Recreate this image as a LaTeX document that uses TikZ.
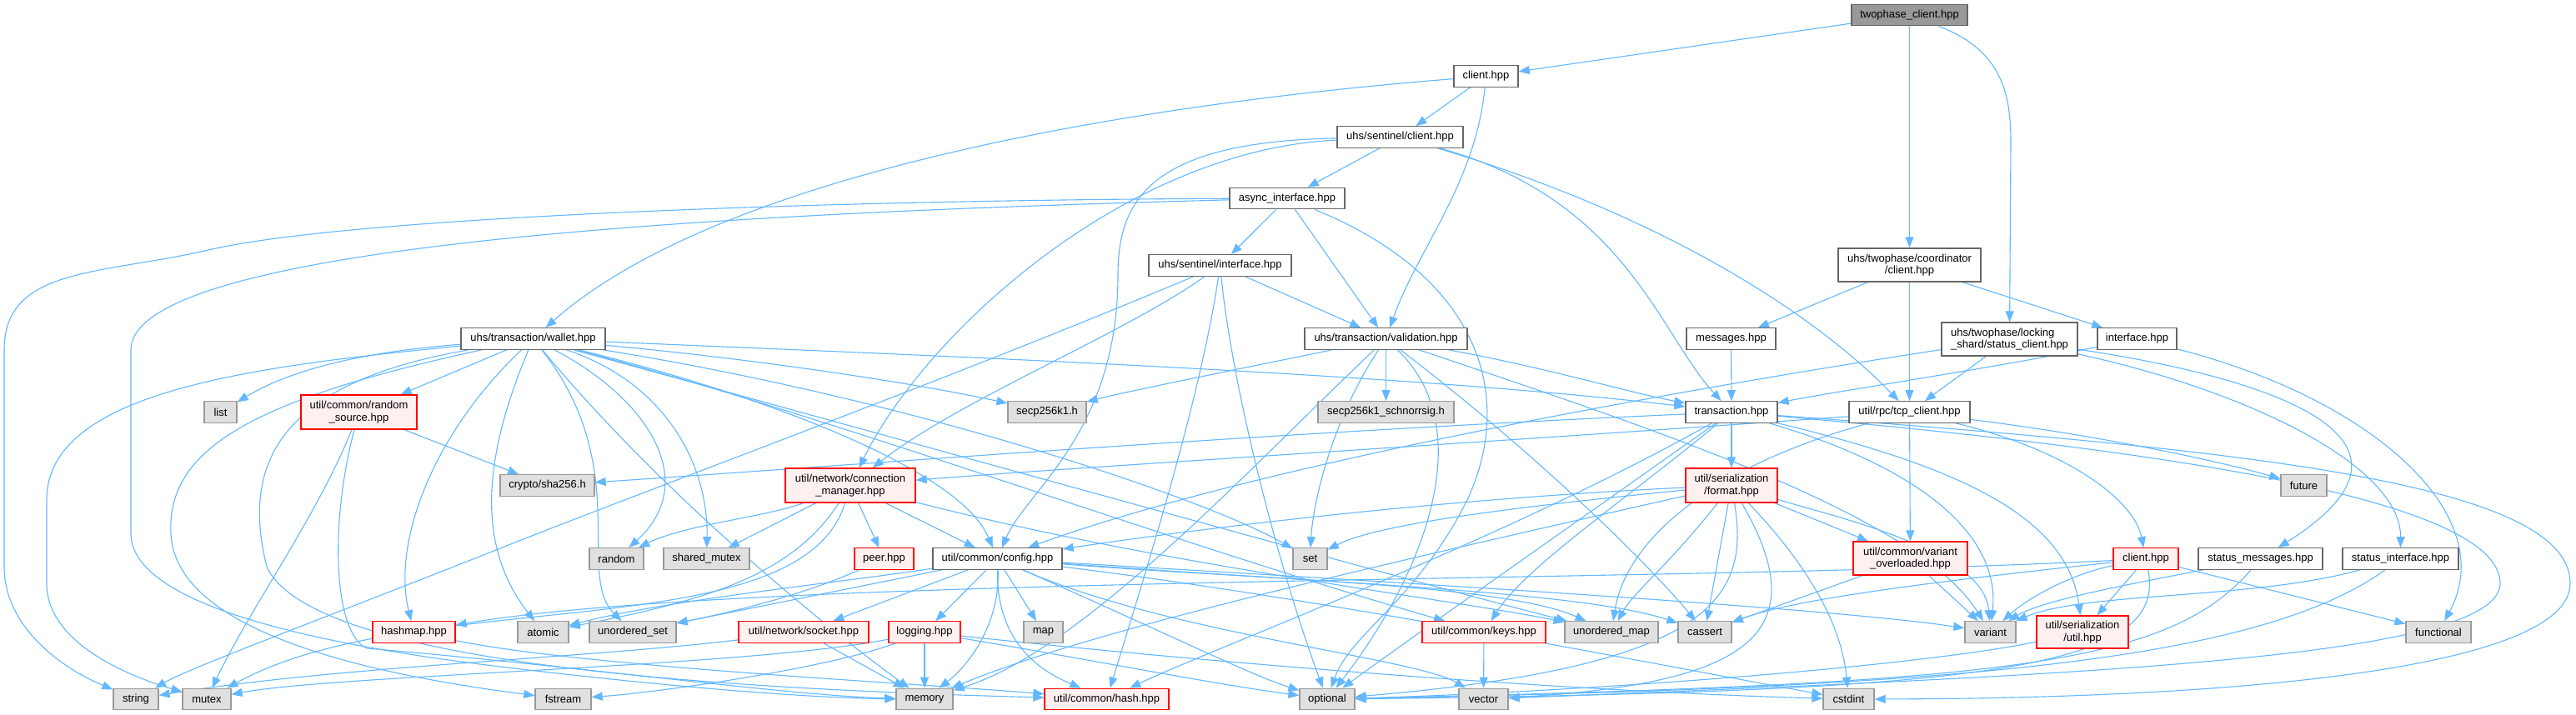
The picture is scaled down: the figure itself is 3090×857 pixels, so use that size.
\documentclass[tikz,border=0pt]{standalone}
\usepackage{fontspec}
\setmainfont{Liberation Sans}
\usetikzlibrary{arrows.meta}
\pgfdeclarelayer{bg}
\pgfdeclarelayer{edges}
\pgfsetlayers{bg,edges,main}
\definecolor{edgec}{HTML}{63B8FF}
\definecolor{extfill}{HTML}{E0E0E0}
\definecolor{extdraw}{HTML}{999999}
\definecolor{plaindraw}{HTML}{666666}
\definecolor{redfill}{HTML}{FFF0F0}
\definecolor{rootfill}{HTML}{999999}
\tikzset{
  nodebase/.style={draw, rectangle, inner sep=0pt, minimum height=25.5pt, line width=1.3pt,
    font=\fontsize{13}{14.5}\selectfont, text=black, align=center},
  plainbox/.style={nodebase, fill=white, draw=plaindraw},
  rootbox/.style={nodebase, fill=rootfill, draw=plaindraw},
  extbox/.style={nodebase, fill=extfill, draw=extdraw},
  redbox/.style={nodebase, fill=redfill, draw=red},
  edg/.style={draw=edgec, line width=1.1pt, -{Triangle[length=13pt,width=10pt]}}
}
\begin{document}
\begin{tikzpicture}[x=1pt,y=-1pt]
\useasboundingbox (0,0) rectangle (3090,857);
\begin{pgfonlayer}{bg}
\fill[white] (0,0) rectangle (3090,857);
\end{pgfonlayer}
% nodes
\node[rootbox,minimum width=139pt] (root) at (2290.5,18) {twophase\_client.hpp};
\node[plainbox,minimum width=77pt] (clienthpp) at (1782.5,91.5) {client.hpp};
\node[plainbox,minimum width=151pt] (sentclient) at (1679.5,164.5) {uhs/sentinel/client.hpp};
\node[plainbox,minimum width=138pt] (async) at (1544,238) {async\_interface.hpp};
\node[plainbox,minimum width=171pt] (sentiface) at (1463.5,318.5) {uhs/sentinel/interface.hpp};
\node[plainbox,minimum width=173pt] (wallet) at (639.5,406.5) {uhs/transaction/wallet.hpp};
\node[plainbox,minimum width=195pt] (validation) at (1662.5,406.5) {uhs/transaction/validation.hpp};
\node[plainbox,minimum width=171pt,minimum height=40pt] (coord) at (2290.5,318) {uhs/twophase/coordinator\\/client.hpp};
\node[plainbox,minimum width=107pt] (messages) at (2076.5,406.5) {messages.hpp};
\node[plainbox,minimum width=163pt,minimum height=40pt,align=left] (statusclient) at (2410.5,407) {uhs/twophase/locking\\\_shard/status\_client.hpp};
\node[plainbox,minimum width=95pt] (iface) at (2563.5,406.5) {interface.hpp};
\node[extbox,minimum width=39pt] (list) at (264.5,494.5) {list};
\node[redbox,minimum width=139pt,minimum height=41pt] (randsrc) at (430.5,494.5) {util/common/random\\\_source.hpp};
\node[extbox,minimum width=94pt] (secp) at (1256,494.5) {secp256k1.h};
\node[extbox,minimum width=163pt] (schnorr) at (1662.5,494.5) {secp256k1\_schnorrsig.h};
\node[plainbox,minimum width=110pt] (transaction) at (2077,494.5) {transaction.hpp};
\node[plainbox,minimum width=145pt] (tcpclient) at (2290.5,494.5) {util/rpc/tcp\_client.hpp};
\node[extbox,minimum width=113pt] (sha256) at (656.5,582.5) {crypto/sha256.h};
\node[redbox,minimum width=156pt,minimum height=41pt] (connmgr) at (1020,582.5) {util/network/connection\\\_manager.hpp};
\node[redbox,minimum width=110pt,minimum height=41pt] (format) at (2077,582.5) {util/serialization\\/format.hpp};
\node[extbox,minimum width=55pt] (future) at (2763.5,582.5) {future};
\node[extbox,minimum width=65pt] (random) at (739.5,670.5) {random};
\node[extbox,minimum width=103pt] (sharedmutex) at (847.5,670.5) {shared\_mutex};
\node[redbox,minimum width=71pt] (peer) at (1060.5,670.5) {peer.hpp};
\node[plainbox,minimum width=155pt] (config) at (1196.5,670.5) {util/common/config.hpp};
\node[extbox,minimum width=41pt] (set) at (1571.5,670.5) {set};
\node[redbox,minimum width=137pt,minimum height=40pt] (varover) at (2291.5,670) {util/common/variant\\\_overloaded.hpp};
\node[redbox,minimum width=78pt] (rpcclient) at (2574,670.5) {client.hpp};
\node[plainbox,minimum width=149pt] (statusmsg) at (2711.5,670.5) {status\_messages.hpp};
\node[plainbox,minimum width=139pt] (statusiface) at (2879.5,670.5) {status\_interface.hpp};
\node[redbox,minimum width=99pt] (hashmap) at (496.5,758.5) {hashmap.hpp};
\node[extbox,minimum width=61pt] (atomic) at (651.5,758.5) {atomic};
\node[extbox,minimum width=104pt] (uset) at (759,758.5) {unordered\_set};
\node[redbox,minimum width=156pt] (socket) at (964,758.5) {util/network/socket.hpp};
\node[redbox,minimum width=86pt] (logging) at (1109,758.5) {logging.hpp};
\node[extbox,minimum width=47pt] (map) at (1251.5,758.5) {map};
\node[redbox,minimum width=148pt] (keys) at (1780,758.5) {util/common/keys.hpp};
\node[extbox,minimum width=112pt] (umap) at (1933,758.5) {unordered\_map};
\node[extbox,minimum width=64pt] (cassert) at (2045,758.5) {cassert};
\node[extbox,minimum width=61pt] (variant) at (2387.5,758.5) {variant};
\node[redbox,minimum width=110pt,minimum height=39pt] (serutil) at (2498,758.5) {util/serialization\\/util.hpp};
\node[extbox,minimum width=78pt] (functional) at (2925,758.5) {functional};
\node[extbox,minimum width=54pt] (string) at (163,839) {string};
\node[extbox,minimum width=58pt] (mutex) at (248,839) {mutex};
\node[extbox,minimum width=67pt] (fstream) at (675.5,839) {fstream};
\node[extbox,minimum width=68pt] (memory) at (1109,839) {memory};
\node[redbox,minimum width=149pt] (hash) at (1327.5,839) {util/common/hash.hpp};
\node[extbox,minimum width=66pt] (optional) at (1592,839) {optional};
\node[extbox,minimum width=59pt] (vector) at (1779.5,839) {vector};
\node[extbox,minimum width=61pt] (cstdint) at (2217.5,839) {cstdint};
% edges
\begin{pgfonlayer}{edges}
% root
\draw[edg] (root) -- (clienthpp);
\draw[edg] (root) -- (coord);
\draw[edg] (root) .. controls (2400,60) and (2412,110) .. (2412,170) -- (statusclient);
% client.hpp
\draw[edg] (clienthpp) -- (sentclient);
\draw[edg] (clienthpp) .. controls (1770,220) and (1700,300) .. (validation);
\draw[edg] (clienthpp) .. controls (1300,130) and (850,220) .. (wallet);
% sentinel client
\draw[edg] (sentclient) -- (async);
\draw[edg] (sentclient) .. controls (1950,240) and (1990,400) .. (transaction);
\draw[edg] (sentclient) .. controls (2000,260) and (2180,380) .. (tcpclient);
\draw[edg] (sentclient) .. controls (1350,180) and (1110,400) .. (connmgr);
\draw[edg] (sentclient) .. controls (1380,170) and (1341,240) .. (1341,330) .. controls (1341,520) and (1230,590) .. (config);
% async interface
\draw[edg] (async) -- (sentiface);
\draw[edg] (async) -- (validation);
\draw[edg] (async) .. controls (1770,330) and (1820,470) .. (1760,600) .. controls (1700,720) and (1620,760) .. (optional);
\draw[edg] (async) .. controls (1000,240) and (420,260) .. (250,300) .. controls (120,330) and (5,320) .. (5,420) -- (5,680) .. controls (5,750) and (70,800) .. (string);
\draw[edg] (async) .. controls (900,255) and (157,290) .. (157,420) -- (157,640) .. controls (157,720) and (350,770) .. (600,800) .. controls (850,830) and (1000,838) .. (memory);
% sentinel interface
\draw[edg] (sentiface) -- (validation);
\draw[edg] (sentiface) .. controls (1350,400) and (1150,480) .. (connmgr);
\draw[edg] (sentiface) .. controls (1150,450) and (850,560) .. (620,650) .. controls (420,730) and (230,800) .. (string);
\draw[edg] (sentiface) .. controls (1440,480) and (1370,700) .. (hash);
\draw[edg] (sentiface) .. controls (1480,480) and (1540,700) .. (optional);
% wallet
\draw[edg] (wallet) .. controls (400,425) and (330,455) .. (list);
\draw[edg] (wallet) -- (randsrc);
\draw[edg] (wallet) .. controls (520,520) and (470,650) .. (hashmap);
\draw[edg] (wallet) .. controls (575,560) and (575,660) .. (atomic);
\draw[edg] (wallet) .. controls (760,560) and (690,690) .. (uset);
\draw[edg] (wallet) .. controls (300,440) and (56,470) .. (56,600) -- (56,700) .. controls (56,770) and (150,810) .. (mutex);
\draw[edg] (wallet) .. controls (300,480) and (200,540) .. (205,640) .. controls (210,760) and (450,810) .. (fstream);
\draw[edg] (wallet) .. controls (780,480) and (840,580) .. (random);
\draw[edg] (wallet) .. controls (800,460) and (850,560) .. (sharedmutex);
\draw[edg] (wallet) .. controls (1200,430) and (1700,450) .. (transaction);
\draw[edg] (wallet) .. controls (1000,500) and (1400,650) .. (keys);
\draw[edg] (wallet) .. controls (1200,560) and (1700,700) .. (umap);
\draw[edg] (wallet) .. controls (900,470) and (1150,560) .. (config);
\draw[edg] (wallet) .. controls (1100,480) and (1450,600) .. (set);
\draw[edg] (wallet) .. controls (900,430) and (1100,460) .. (secp);
\draw[edg] (wallet) .. controls (330,460) and (290,560) .. (320,680) .. controls (370,790) and (800,825) .. (hash);
\draw[edg] (wallet) .. controls (800,600) and (1000,760) .. (memory);
% random source
\draw[edg] (randsrc) -- (sha256);
\draw[edg] (randsrc) .. controls (380,620) and (300,730) .. (mutex);
\draw[edg] (randsrc) .. controls (395,630) and (400,760) .. (440,778) .. controls (700,800) and (950,835) .. (memory);
% hashmap
\draw[edg] (hashmap) .. controls (700,800) and (1100,820) .. (hash);
% connection manager
\draw[edg] (connmgr) -- (sharedmutex);
\draw[edg] (connmgr) -- (peer);
\draw[edg] (connmgr) -- (config);
\draw[edg] (connmgr) .. controls (950,690) and (850,720) .. (atomic);
\draw[edg] (connmgr) .. controls (960,780) and (500,700) .. (mutex);
\draw[edg] (connmgr) .. controls (1400,680) and (1750,720) .. (umap);
\draw[edg] (connmgr) .. controls (920,620) and (820,630) .. (random);
% peer
\draw[edg] (peer) .. controls (950,720) and (850,740) .. (uset);
% config
\draw[edg] (config) -- (socket);
\draw[edg] (config) -- (logging);
\draw[edg] (config) -- (map);
\draw[edg] (config) .. controls (1195,780) and (1260,810) .. (hash);
\draw[edg] (config) .. controls (1400,760) and (1500,810) .. (optional);
\draw[edg] (config) .. controls (1600,720) and (2000,800) .. (cstdint);
\draw[edg] (config) .. controls (1700,700) and (2200,730) .. (variant);
\draw[edg] (config) .. controls (1000,700) and (800,720) .. (atomic);
\draw[edg] (config) .. controls (1000,710) and (900,730) .. (uset);
\draw[edg] (config) .. controls (1600,700) and (1900,710) .. (cassert);
\draw[edg] (config) .. controls (1500,695) and (1800,700) .. (umap);
\draw[edg] (config) .. controls (1400,760) and (1700,790) .. (vector);
\draw[edg] (config) .. controls (1200,750) and (1160,800) .. (memory);
% logging, socket, keys
\draw[edg] (logging) -- (memory);
\draw[edg] (logging) .. controls (900,800) and (400,810) .. (mutex);
\draw[edg] (logging) .. controls (1000,800) and (800,830) .. (fstream);
\draw[edg] (logging) .. controls (1300,790) and (1450,820) .. (optional);
\draw[edg] (logging) .. controls (1500,800) and (1900,830) .. (cstdint);
\draw[edg] (socket) -- (memory);
\draw[edg] (socket) .. controls (700,790) and (400,800) .. (string);
\draw[edg] (keys) -- (vector);
% transaction
\draw[edg] (transaction) -- (format);
\draw[edg] (transaction) .. controls (1500,520) and (1000,560) .. (sha256);
\draw[edg] (transaction) .. controls (1950,600) and (1830,680) .. (keys);
\draw[edg] (transaction) .. controls (1800,650) and (1450,780) .. (hash);
\draw[edg] (transaction) .. controls (2700,540) and (3083,580) .. (3083,700) .. controls (3083,800) and (2700,838) .. (cstdint);
\draw[edg] (transaction) .. controls (2600,540) and (2999,600) .. (2999,700) .. controls (2999,790) and (2500,810) .. (vector);
\draw[edg] (transaction) .. controls (2300,560) and (2400,640) .. (variant);
\draw[edg] (transaction) .. controls (2350,560) and (2480,620) .. (serutil);
\draw[edg] (transaction) .. controls (1900,620) and (1700,760) .. (optional);
% format
\draw[edg] (format) .. controls (1700,600) and (1400,640) .. (config);
\draw[edg] (format) .. controls (1800,610) and (1650,630) .. (set);
\draw[edg] (format) .. controls (1600,690) and (1300,760) .. (memory);
\draw[edg] (format) .. controls (2000,680) and (1960,710) .. (umap);
\draw[edg] (format) -- (cassert);
\draw[edg] (format) -- (varover);
\draw[edg] (format) .. controls (2180,690) and (2210,760) .. (cstdint);
\draw[edg] (format) .. controls (2200,620) and (2380,660) .. (variant);
\draw[edg] (format) .. controls (2100,720) and (2050,800) .. (optional);
\draw[edg] (format) .. controls (2180,760) and (2100,820) .. (vector);
% tcp client
\draw[edg] (tcpclient) -- (varover);
\draw[edg] (tcpclient) .. controls (2500,520) and (2650,550) .. (future);
\draw[edg] (tcpclient) .. controls (2480,540) and (2560,600) .. (rpcclient);
\draw[edg] (tcpclient) .. controls (1800,530) and (1300,560) .. (connmgr);
\draw[edg] (tcpclient) .. controls (2050,560) and (1950,650) .. (umap);
% status client
\draw[edg] (statusclient) -- (tcpclient);
\draw[edg] (statusclient) .. controls (2700,450) and (2950,520) .. (statusmsg);
\draw[edg] (statusclient) .. controls (2700,470) and (2880,560) .. (statusiface);
\draw[edg] (statusclient) .. controls (2000,470) and (1500,560) .. (config);
% coordinator
\draw[edg] (coord) -- (messages);
\draw[edg] (coord) -- (tcpclient);
\draw[edg] (coord) -- (iface);
\draw[edg] (messages) -- (transaction);
\draw[edg] (iface) .. controls (2400,440) and (2200,470) .. (transaction);
\draw[edg] (iface) .. controls (2850,480) and (3000,620) .. (functional);
% variant overloaded
\draw[edg] (varover) -- (variant);
\draw[edg] (varover) -- (cassert);
% rpc client
\draw[edg] (rpcclient) -- (serutil);
\draw[edg] (rpcclient) .. controls (2480,690) and (2430,720) .. (variant);
\draw[edg] (rpcclient) -- (functional);
\draw[edg] (rpcclient) .. controls (2300,700) and (2150,720) .. (cassert);
\draw[edg] (rpcclient) .. controls (2600,800) and (2400,830) .. (optional);
\draw[edg] (rpcclient) .. controls (2000,700) and (900,690) .. (hashmap);
% status messages / interface
\draw[edg] (statusmsg) .. controls (2560,700) and (2450,720) .. (variant);
\draw[edg] (statusmsg) .. controls (2600,800) and (2400,820) .. (optional);
\draw[edg] (statusiface) .. controls (2700,720) and (2500,710) .. (variant);
\draw[edg] (statusiface) .. controls (2700,800) and (2300,825) .. (optional);
\draw[edg] (serutil) .. controls (2300,800) and (1900,830) .. (optional);
% validation
\draw[edg] (validation) .. controls (1500,440) and (1350,470) .. (secp);
\draw[edg] (validation) -- (schnorr);
\draw[edg] (validation) .. controls (1850,440) and (1950,470) .. (transaction);
\draw[edg] (validation) .. controls (1600,500) and (1575,600) .. (set);
\draw[edg] (validation) .. controls (1850,550) and (1980,680) .. (cassert);
\draw[edg] (validation) .. controls (2000,520) and (2300,620) .. (variant);
\draw[edg] (validation) .. controls (1780,520) and (1700,700) .. (optional);
\draw[edg] (validation) .. controls (1500,560) and (1300,780) .. (memory);
\end{pgfonlayer}
\end{tikzpicture}
\end{document}
